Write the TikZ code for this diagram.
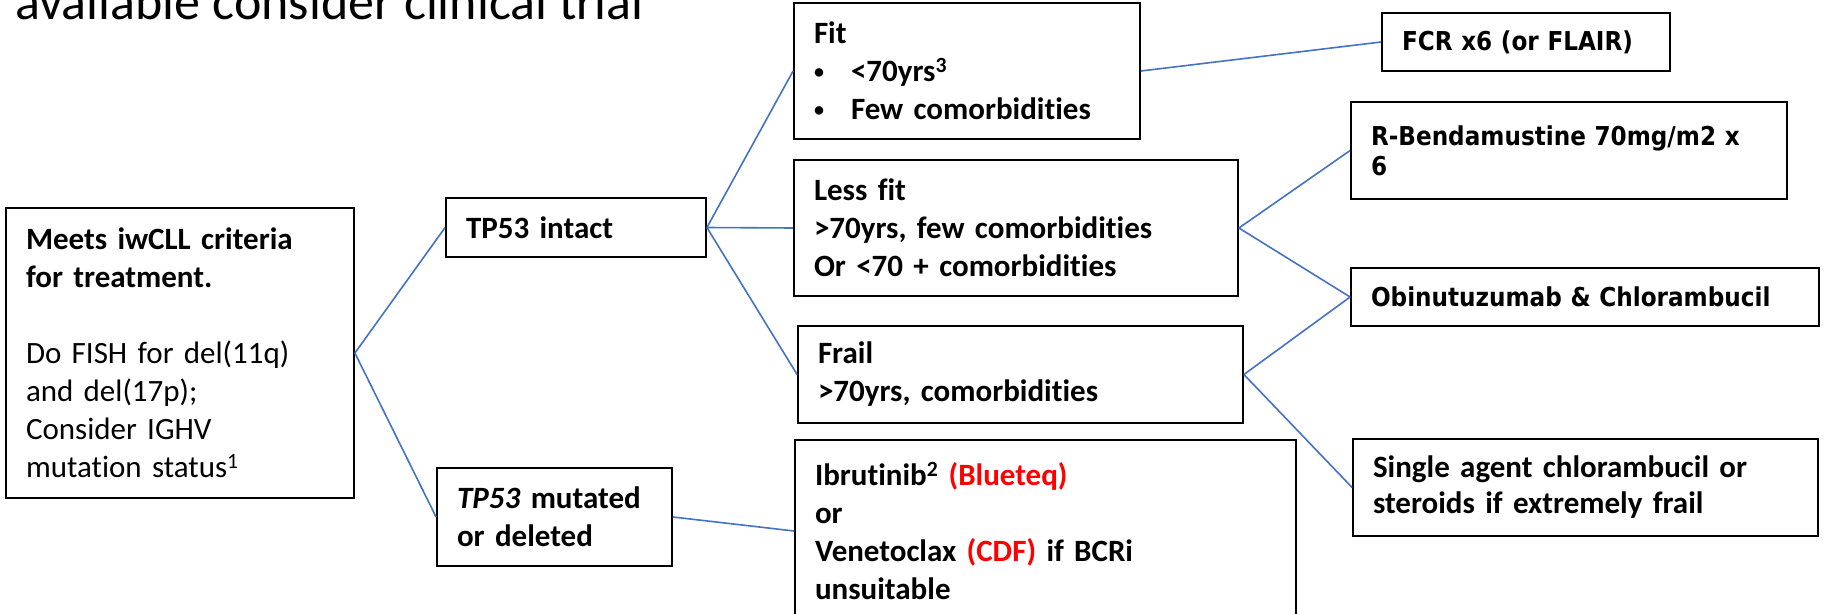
\documentclass[tikz,border=0pt]{standalone}
\usepackage{fontspec}
\setmainfont[Ligatures=NoCommon]{Carlito}
\newfontfamily\widefont[FakeStretch=0.89]{DejaVu Sans}
\usepackage{xcolor}
\definecolor{linkblue}{HTML}{4472C4}
\newcommand{\smallbullet}{\makebox[37pt][l]{\raisebox{3pt}{\fontsize{20}{20}\selectfont\textbullet}}}
\begin{document}
\begin{tikzpicture}[x=1pt,y=-1pt,
  box/.style={draw=black, line width=1.8pt, inner xsep=20pt, inner ysep=0pt,
    align=left, font=\fontsize{31}{38}\selectfont\bfseries},
  widebox/.style={box, font=\fontsize{26}{30}\selectfont\widefont\bfseries},
  conn/.style={draw=linkblue, line width=1.6pt}]
\useasboundingbox (0,0) rectangle (1825,613);

% heading line, partly above the page edge
\node[anchor=base west, inner sep=0pt, font=\fontsize{52}{60}\selectfont] (title)
  at (15,19) {available consider clinical trial};

% decision boxes
\node[box, text width=308pt, minimum height=290pt] (main) at (180,353)
  {Meets iwCLL criteria\\for treatment.\\\mbox{}\\
   \mdseries Do FISH for del(11q)\\and del(17p);\\Consider IGHV\\mutation status\textsuperscript{1}};
\node[box, text width=220pt, minimum height=59pt] (tp53i) at (576,227.5) {TP53 intact};
\node[box, text width=195pt, minimum height=98pt] (tp53m) at (554.5,517)
  {\textit{TP53} mutated\\or deleted};
\node[box, text width=306pt, minimum height=136pt] (fit) at (967,71)
  {Fit\\\smallbullet<70yrs\textsuperscript{3}\\
   \smallbullet Few comorbidities};
\node[box, text width=404pt, minimum height=136pt] (lessfit) at (1016,228)
  {Less fit\\>70yrs, few comorbidities\\Or <70 + comorbidities};
\node[box, text width=405pt, minimum height=97pt] (frail) at (1020.5,374.5)
  {Frail\\>70yrs, comorbidities};
% this box runs on past the lower page edge
\node[box, text width=461pt, minimum height=182pt] (ibr) at (1045.5,531)
  {Ibrutinib\textsuperscript{2} \textcolor{red}{(Blueteq)}\\or\\
   Venetoclax \textcolor{red}{(CDF)} if BCRi\\unsuitable\\[8pt]};

% treatment boxes
\node[widebox, text width=248pt, minimum height=58pt] (fcr) at (1526,42) {FCR x6 (or FLAIR)};
\node[widebox, text width=396pt, minimum height=97pt] (rbend) at (1569,150.5)
  {R-Bendamustine 70mg/m2 x\\6};
\node[widebox, text width=428pt, minimum height=58pt] (obin) at (1585,297)
  {Obinutuzumab \& Chlorambucil};
\node[box, text width=425pt, minimum height=97pt, font=\fontsize{31}{36}\selectfont\bfseries]
  (single) at (1585.5,487.5)
  {Single agent chlorambucil or\\steroids if extremely frail};

% connectors
\draw[conn] (main.east) -- (tp53i.west);
\draw[conn] (main.east) -- (tp53m.west);
\draw[conn] (tp53i.east) -- (fit.west);
\draw[conn] (tp53i.east) -- (lessfit.west);
\draw[conn] (tp53i.east) -- (frail.west);
\draw[conn] (tp53m.east) -- (ibr.west);
\draw[conn] (fit.east) -- (fcr.west);
\draw[conn] (lessfit.east) -- (rbend.west);
\draw[conn] (lessfit.east) -- (obin.west);
\draw[conn] (frail.east) -- (obin.west);
\draw[conn] (frail.east) -- (single.west);
\end{tikzpicture}
\end{document}
